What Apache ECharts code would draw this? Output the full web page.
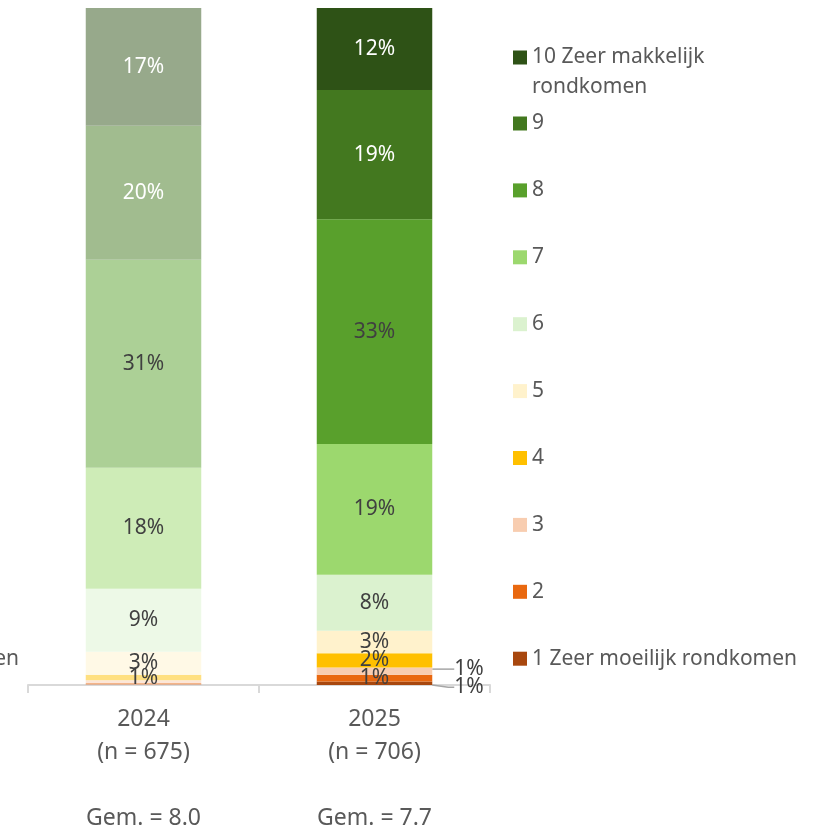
<!DOCTYPE html>
<html>
<head>
<meta charset="utf-8">
<script src="https://cdn.jsdelivr.net/npm/echarts@6/dist/echarts.min.js"></script>
<style>
  html, body { margin: 0; padding: 0; background: #fff; }
  #chart { width: 823px; height: 828px; }
</style>
</head>
<body>
<div id="chart"></div>
<script>
// data
var years = ['2024', '2025']
var nLabels = ['(n = 675)', '(n = 706)']
var gemLabels = ['Gem. = 8.0', 'Gem. = 7.7']
// stacked bottom -> top
var levels = ['1 Zeer moeilijk rondkomen', '2', '3', '4', '5', '6', '7', '8', '9', '10 Zeer makkelijk rondkomen']
var colors = ['#A8470E', '#E9680F', '#F8CDB0', '#FFC000', '#FFF2CC', '#DBF2CF', '#9CD86E', '#59A02C', '#43781F', '#2E5216']
var values2024 = [0.1, 0.2, 0.4, 0.8, 3.4, 9.3, 17.9, 30.7, 19.8, 17.4]
var values2025 = [0.5, 1.0, 1.1, 2.1, 3.3, 8.3, 19.3, 33.2, 19.1, 12.1]
// labels placed outside the 2025 bar (vertical shift)
var callouts2025 = { '3': -2, '1 Zeer moeilijk rondkomen': 4 }
var whiteLabelLevels = ['9', '10 Zeer makkelijk rondkomen']

var font = 'Noto Sans'
var chart = echarts.init(document.getElementById('chart'))

// 2024 is drawn as the faded (half tint) version of the colour
function fade(hex) {
  var n = parseInt(hex.slice(1), 16)
  var r = Math.round(((n >> 16) & 255) * 0.5 + 127.5)
  var g = Math.round(((n >> 8) & 255) * 0.5 + 127.5)
  var b = Math.round((n & 255) * 0.5 + 127.5)
  return 'rgb(' + r + ',' + g + ',' + b + ')'
}

var series = levels.map(function (name, i) {
  var isCallout = callouts2025.hasOwnProperty(name)
  return {
    name: name,
    type: 'bar',
    stack: 'total',
    barWidth: '50%',
    itemStyle: { color: colors[i] },
    label: {
      show: true,
      position: 'inside',
      fontFamily: font,
      fontSize: 21,
      color: whiteLabelLevels.indexOf(name) >= 0 ? '#ffffff' : '#404040',
      formatter: function (p) {
        var r = Math.round(p.value)
        return r > 0 ? r + '%' : ''
      }
    },
    labelLine: {
      lineStyle: { color: '#A6A6A6', width: 1.5 }
    },
    labelLayout: isCallout ? function (p) {
      if (p.dataIndex !== 1) return {}
      return { dx: 12, dy: callouts2025[name] }
    } : undefined,
    data: [
      { value: values2024[i], itemStyle: { color: fade(colors[i]) } },
      isCallout
        ? { value: values2025[i], label: { position: 'right', distance: 10 }, labelLine: { show: true, length2: 6 } }
        : { value: values2025[i] }
    ]
  }
})

chart.setOption({
  backgroundColor: '#ffffff',
  textStyle: { fontFamily: font },
  grid: { left: 28, right: 333, top: 8, bottom: 143, outerBoundsMode: 'none' },
  xAxis: {
    type: 'category',
    data: years,
    axisLine: { lineStyle: { color: '#D9D9D9', width: 2 } },
    axisTick: { show: true, length: 8, lineStyle: { color: '#D9D9D9', width: 2 } },
    axisLabel: {
      margin: 18,
      fontFamily: font,
      fontSize: 23,
      lineHeight: 33,
      color: '#595959',
      formatter: function (v, i) {
        return v + '\n' + nLabels[i] + '\n\n' + gemLabels[i]
      }
    }
  },
  yAxis: { type: 'value', min: 0, max: 100, show: false },
  legend: [{
    orient: 'vertical',
    left: 513,
    top: 47,
    padding: 0,
    itemWidth: 14,
    itemHeight: 14,
    icon: 'rect',
    data: [levels[9]],
    formatter: function () { return '10 Zeer makkelijk' },
    textStyle: { fontFamily: font, fontSize: 21, lineHeight: 20, color: '#595959' },
    selectedMode: false
  }, {
    orient: 'vertical',
    left: 513,
    top: 113,
    padding: 0,
    itemWidth: 14,
    itemHeight: 14,
    itemGap: 45.9,
    icon: 'rect',
    data: levels.slice(0, 9).reverse(),
    textStyle: { fontFamily: font, fontSize: 21, lineHeight: 20, color: '#595959' },
    selectedMode: false
  }],
  graphic: [{
    type: 'text',
    left: 532,
    top: 77,
    style: { text: 'rondkomen', font: '21px "Noto Sans"', fill: '#595959' }
  }, {
    type: 'text',
    right: 804,
    top: 649,
    style: { text: 'rondkomen', font: '21px "Noto Sans"', fill: '#595959' }
  }],
  series: series
})
</script>
</body>
</html>
